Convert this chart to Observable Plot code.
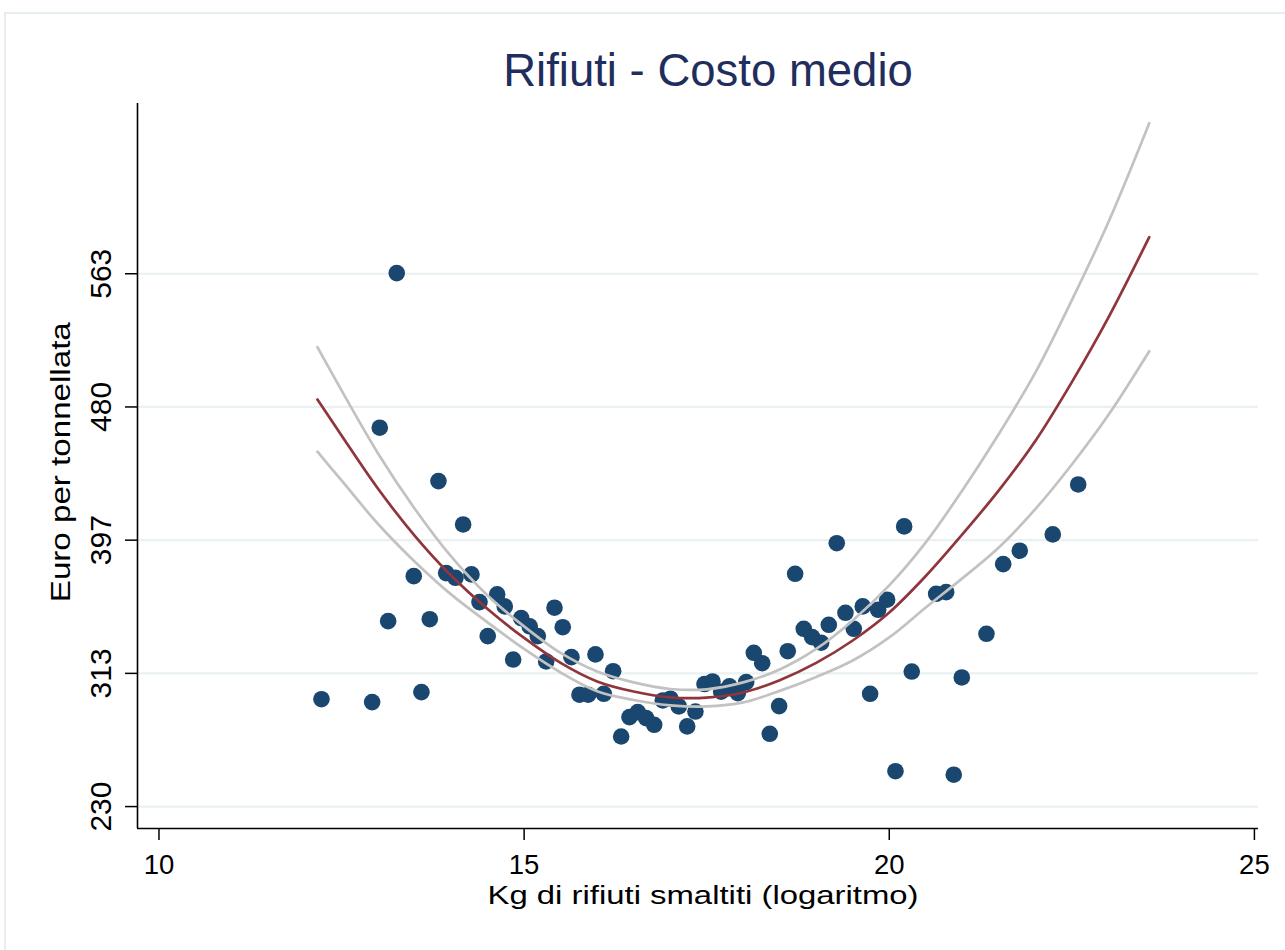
<!DOCTYPE html>
<html>
<head>
<meta charset="utf-8">
<script src="https://cdn.jsdelivr.net/npm/d3@7"></script>
<script src="https://cdn.jsdelivr.net/npm/@observablehq/plot@0.6"></script>
<style>
  html, body { margin: 0; padding: 0; background: #ffffff; }
  #wrap { position: relative; width: 1285px; height: 950px; overflow: hidden; font-family: "Liberation Sans", Arial, sans-serif; }
  #border { position: absolute; left: 4px; top: 12px; width: 1400px; height: 1000px; border-top: 2px solid #e6eef1; border-left: 2px solid #e6eef1; pointer-events: none; z-index: 2; }
  #title { box-sizing: border-box; height: 102px; padding-top: 46px; padding-left: 131px; width: 1285px; text-align: center; font-size: 45.5px; line-height: 50px; color: #1f2e5c; white-space: nowrap; }
  #chart svg { display: block; }
</style>
</head>
<body>
<div id="wrap">
  <div id="border"></div>
  <div id="title">Rifiuti - Costo medio</div>
  <div id="chart"></div>
</div>
<script>
// ---- Data ----
const kgLog = [12.225, 12.919, 13.256, 13.023, 13.138, 13.489, 13.594, 13.708, 13.827, 13.933,
  14.060, 14.165, 14.279, 14.389, 14.502, 14.631, 14.735, 14.850, 14.960, 15.077,
  15.187, 15.302, 15.416, 15.529, 15.648, 15.758, 15.877, 15.977, 16.091, 16.219,
  16.329, 16.443, 16.556, 16.671, 16.781, 16.899, 17.004, 17.118, 17.233, 17.346,
  17.470, 17.579, 17.698, 17.812, 17.926, 18.041, 18.145, 18.260, 18.364, 18.492,
  18.610, 18.711, 18.829, 18.944, 19.067, 19.172, 19.281, 19.400, 19.514, 19.637,
  19.738, 19.848, 19.971, 20.085, 20.204, 20.308, 20.642, 20.779, 20.883, 20.993,
  21.331, 21.560, 21.787, 22.239, 22.587];
const costo = [297.1, 295.3, 563.4, 466.8, 345.9, 374.0, 301.5, 347.1, 433.4, 375.9,
  373.0, 406.3, 375.1, 357.8, 336.5, 362.6, 355.1, 321.9, 347.8, 342.6,
  336.5, 320.7, 354.3, 342.1, 323.4, 299.9, 299.9, 325.1, 300.5, 314.6,
  273.8, 285.9, 289.0, 285.3, 281.1, 296.3, 297.4, 292.6, 280.1, 289.4,
  306.6, 308.2, 301.8, 305.1, 300.9, 307.8, 326.1, 319.6, 275.5, 292.8,
  327.1, 375.5, 341.1, 335.9, 332.4, 343.6, 394.6, 351.1, 341.1, 355.1,
  300.5, 353.0, 359.3, 252.1, 405.1, 314.4, 363.0, 364.0, 249.9, 310.7,
  338.0, 381.5, 389.9, 400.1, 431.3];

// fitted quadratic curve and its confidence band
const curveX = [12.17, 12.5, 13, 13.5, 14, 14.5, 15, 15.5, 16, 16.5, 17, 17.5,
  18, 18.5, 19, 19.5, 20, 20.5, 21, 21.5, 22, 22.5, 23, 23.56];
const fitY = [484.4, 461.9, 428.6, 399.4, 374.4, 353.5, 335.4, 319.8, 308.2, 301.9, 298.3, 298.1,
  301.3, 309.0, 319.8, 333.8, 351.3, 374.1, 400.1, 427.6, 458.5, 495.3, 535.6, 585.9];
const ciHigh = [517.1, 490.1, 450.7, 416.3, 386.3, 361.9, 342.6, 326.0, 314.4, 307.6, 303.5, 303.3,
  307.6, 315.7, 328.5, 346.3, 368.2, 395.1, 427.6, 462.9, 501.2, 546.5, 595.2, 657.1];
const ciLow = [451.8, 433.8, 406.6, 383.2, 362.6, 345.1, 328.5, 313.8, 302.1, 296.6, 293.3, 292.6,
  295.1, 302.3, 311.0, 321.3, 335.7, 354.4, 372.6, 391.9, 415.9, 443.8, 474.7, 514.6];

const xTicks = [10, 15, 20, 25];
const yTicks = [230, 313.25, 396.5, 479.75, 563];
const yTickLabels = ["230", "313", "397", "480", "563"];
const xDomain = [9.706, 25.056];
const yDomain = [216.3, 669.4];

const xTitle = "Kg di rifiuti smaltiti (logaritmo)";
const yTitle = "Euro per tonnellata";

// ---- Build tables ----
const points = kgLog.map((x, i) => ({x, y: costo[i]}));
const fit = curveX.map((x, i) => ({x, y: fitY[i]}));
const hi = curveX.map((x, i) => ({x, y: ciHigh[i]}));
const lo = curveX.map((x, i) => ({x, y: ciLow[i]}));

const chart = Plot.plot({
  width: 1285,
  height: 848,
  marginLeft: 137,
  marginRight: 27,
  marginTop: 1,
  marginBottom: 122,
  style: {background: "transparent", fontFamily: "'Liberation Sans', Arial, sans-serif", color: "#000"},
  x: {domain: xDomain},
  y: {domain: yDomain},
  marks: [
    Plot.ruleY(yTicks, {stroke: "#e9f1f3", strokeWidth: 2.2}),
    Plot.dot(points, {x: "x", y: "y", r: 8.3, fill: "#1a476f", stroke: "none"}),
    Plot.line(hi, {x: "x", y: "y", stroke: "#c2c2c2", strokeWidth: 2.7, curve: "catmull-rom"}),
    Plot.line(lo, {x: "x", y: "y", stroke: "#c2c2c2", strokeWidth: 2.7, curve: "catmull-rom"}),
    Plot.line(fit, {x: "x", y: "y", stroke: "#90353b", strokeWidth: 2.7, curve: "catmull-rom"}),
    Plot.ruleX([xDomain[0]], {stroke: "#000", strokeWidth: 1.6}),
    Plot.ruleY([yDomain[0]], {stroke: "#000", strokeWidth: 1.6}),
    Plot.axisX({ticks: xTicks, tickFormat: d => String(d), tickSize: 12, tickPadding: 14, fontSize: 27.5, label: null, strokeWidth: 1.5}),
    Plot.axisY({ticks: yTicks, tickFormat: d => yTickLabels[yTicks.indexOf(d)], tickRotate: -90, tickSize: 12, tickPadding: 15, fontSize: 30, label: null, strokeWidth: 1.5}),
    Plot.text([xTitle], {frameAnchor: "bottom", lineAnchor: "bottom", textAnchor: "middle", dx: 5, dy: 75, fontSize: 26.5, fill: "#000"}),
    Plot.text([yTitle], {frameAnchor: "left", lineAnchor: "bottom", textAnchor: "middle", rotate: -90, dx: -67.6, dy: -3.8, fontSize: 27, fill: "#000"})
  ]
});
document.getElementById("chart").appendChild(chart);

// stretch the axis titles to the widths they have in the reference
chart.querySelectorAll("text").forEach(t => {
  if (t.textContent === xTitle) { t.setAttribute("textLength", 431); t.setAttribute("lengthAdjust", "spacingAndGlyphs"); }
  if (t.textContent === yTitle) { t.setAttribute("textLength", 280); t.setAttribute("lengthAdjust", "spacingAndGlyphs"); }
});
</script>
</body>
</html>
